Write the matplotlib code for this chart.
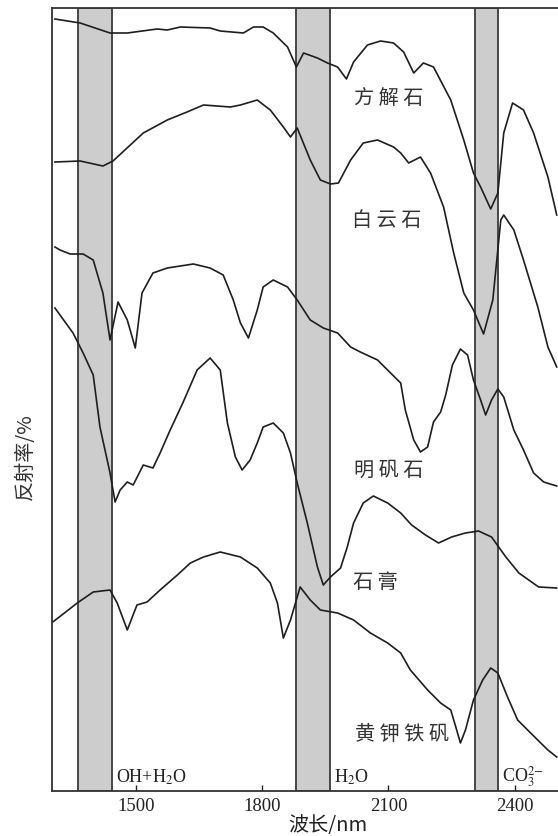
import numpy as np
import matplotlib.pyplot as plt

plt.rcParams['font.family'] = ['Liberation Serif', 'Noto Sans CJK SC', 'DejaVu Sans']
plt.rcParams['mathtext.fontset'] = 'stix'

# wavelength (nm) / relative reflectance (stacked, arbitrary offset)
calcite_wl = [1307, 1367, 1438, 1479, 1550, 1574, 1605, 1676, 1700, 1755, 1779, 1802, 1826, 1860,
              1881, 1898, 1931, 1955, 1979, 2000, 2017, 2050, 2081, 2112, 2136, 2160, 2183, 2207,
              2248, 2279, 2302, 2319, 2343, 2360, 2374, 2395, 2421, 2445, 2479, 2500]
calcite_r = [77.2, 76.8, 75.8, 75.8, 76.2, 76.1, 76.4, 76.3, 76.0, 75.8, 76.4, 76.4, 75.8, 74.4,
             72.4, 73.8, 73.3, 72.8, 72.4, 71.2, 72.9, 74.6, 75.0, 74.8, 73.9, 71.8, 72.8, 72.4,
             69.1, 65.1, 61.8, 60.4, 58.2, 59.8, 65.8, 68.8, 68.1, 65.8, 61.4, 57.6]

dolomite_wl = [1307, 1367, 1421, 1445, 1517, 1574, 1621, 1660, 1724, 1748, 1788, 1819, 1850, 1867,
               1883, 1914, 1938, 1962, 1981, 2010, 2040, 2074, 2112, 2129, 2148, 2176, 2200, 2231,
               2255, 2279, 2302, 2326, 2348, 2367, 2374, 2398, 2421, 2455, 2479, 2500]
dolomite_r = [62.9, 63.0, 62.5, 63.0, 65.8, 67.1, 67.9, 68.6, 68.4, 68.6, 69.1, 68.1, 66.4, 65.4,
              66.3, 63.1, 61.1, 60.7, 60.8, 63.1, 64.8, 65.1, 64.4, 63.8, 62.8, 63.4, 61.8, 58.4,
              53.8, 49.8, 48.1, 45.7, 49.1, 57.1, 57.6, 56.1, 53.1, 48.4, 44.4, 42.4]

alunite_wl = [1307, 1319, 1343, 1374, 1398, 1421, 1438, 1457, 1479, 1498, 1514, 1540, 1574, 1636,
              1676, 1707, 1731, 1748, 1767, 1788, 1802, 1826, 1860, 1883, 1914, 1945, 1979, 2010,
              2033, 2074, 2105, 2129, 2140, 2160, 2176, 2193, 2207, 2224, 2236, 2252, 2271, 2288,
              2302, 2319, 2331, 2345, 2360, 2374, 2398, 2421, 2445, 2469, 2500]
alunite_r = [54.4, 54.1, 53.7, 53.7, 53.1, 49.8, 45.1, 48.9, 47.1, 44.3, 49.8, 51.8, 52.3, 52.7,
             52.3, 51.6, 49.1, 46.8, 45.3, 48.1, 50.4, 51.1, 50.4, 49.1, 47.1, 46.3, 45.8, 44.4,
             43.9, 43.1, 41.8, 40.8, 38.1, 35.1, 33.9, 34.4, 36.9, 37.9, 39.6, 42.6, 44.2, 43.6,
             41.1, 39.1, 37.6, 39.1, 40.2, 39.4, 36.1, 34.1, 31.8, 30.9, 30.5]

gypsum_wl = [1307, 1350, 1374, 1398, 1414, 1438, 1450, 1462, 1479, 1493, 1517, 1540, 1557, 1581,
             1612, 1645, 1676, 1700, 1717, 1736, 1752, 1771, 1788, 1802, 1826, 1850, 1867, 1883,
             1907, 1931, 1945, 1962, 1986, 2002, 2017, 2040, 2064, 2098, 2129, 2155, 2188, 2219,
             2250, 2283, 2314, 2345, 2379, 2410, 2457, 2500]
gypsum_r = [48.3, 45.8, 43.8, 41.6, 36.4, 31.8, 28.9, 30.1, 30.9, 30.6, 32.6, 32.3, 33.8, 36.1,
            38.9, 42.1, 43.3, 42.1, 36.8, 33.4, 32.1, 33.1, 34.8, 36.4, 36.8, 35.8, 33.8, 30.8,
            26.8, 22.4, 20.6, 21.4, 22.3, 24.4, 26.8, 28.8, 29.5, 28.8, 27.8, 26.6, 25.6, 24.8,
            25.4, 25.8, 26.0, 25.4, 23.4, 21.8, 20.4, 20.3]

jarosite_wl = [1302, 1360, 1398, 1438, 1455, 1479, 1502, 1526, 1557, 1598, 1629, 1660, 1700, 1748,
               1788, 1819, 1836, 1850, 1867, 1890, 1914, 1938, 1979, 2017, 2057, 2098, 2129, 2152,
               2193, 2224, 2248, 2260, 2271, 2283, 2302, 2324, 2343, 2360, 2383, 2407, 2438, 2462,
               2479, 2500]
jarosite_r = [16.9, 18.8, 19.9, 20.1, 18.8, 16.1, 18.6, 18.9, 20.1, 21.6, 22.8, 23.4, 23.9, 23.4,
              22.3, 20.8, 18.8, 15.3, 17.1, 20.4, 19.1, 18.1, 17.8, 17.1, 15.8, 14.8, 13.8, 12.1,
              10.1, 8.8, 8.1, 6.4, 4.8, 6.1, 9.1, 11.1, 12.3, 11.8, 9.4, 7.1, 5.8, 4.8,
              4.1, 3.4]

bands = [(1362, 1443), (1879, 1960), (2305, 2360)]
band_labels = [r'OH+H$_2$O', r'H$_2$O', r'CO$_3^{2\!-}$']

names = ['方 解 石', '白 云 石', '明 矾 石', '石 膏', '黄 钾 铁 矾']
name_pos = [(2100, 69.3), (2095, 57.1), (2100, 32.1), (2069, 20.9), (2133, 5.6)]

curves = [(calcite_wl, calcite_r), (dolomite_wl, dolomite_r), (alunite_wl, alunite_r),
          (gypsum_wl, gypsum_r), (jarosite_wl, jarosite_r)]

fig = plt.figure(figsize=(5.58, 8.36), dpi=100)
ax = fig.add_axes([52/558, 1-791/836, 1-52/558, (791-8)/836])

for (lo, hi), lab in zip(bands, band_labels):
    ax.axvspan(lo, hi, facecolor='#cdcdcd', edgecolor='#3a3a3a', linewidth=1.3, zorder=1)
    ax.text(hi + 10, 1.4, lab, fontsize=13, va='center', ha='left', color='#222222', zorder=3)

for wl, r in curves:
    ax.plot(wl, r, color='#1e1e1e', linewidth=1.2, zorder=2)

for name, (x, y) in zip(names, name_pos):
    ax.text(x, y, name, fontsize=14.5, ha='center', va='center', color='#333333',
            family=['Noto Sans CJK SC', 'DejaVu Sans'], zorder=3)

ax.set_xlim(1300, 2503)
ax.set_ylim(0, 78.3)
ax.set_xticks([1500, 1800, 2100, 2400])
ax.set_yticks([])
ax.tick_params(axis='x', direction='in', length=4, width=1, labelsize=13.5, pad=5, colors='#222222')
for s in ['left', 'top', 'bottom']:
    ax.spines[s].set_linewidth(1.3)
    ax.spines[s].set_color('#333333')
ax.spines['right'].set_visible(False)

fig.text(25/558, 1-457/836, '反射率/%', rotation=90, ha='center', va='center', fontsize=14.5,
         color='#333333', family=['Noto Sans CJK SC', 'DejaVu Sans'])
fig.text(328/558, 1-826/836, '波长/nm', ha='center', va='center', fontsize=14.5, color='#222222',
         family=['Noto Sans CJK SC', 'Liberation Serif'])

plt.savefig('out.png', dpi=100)
